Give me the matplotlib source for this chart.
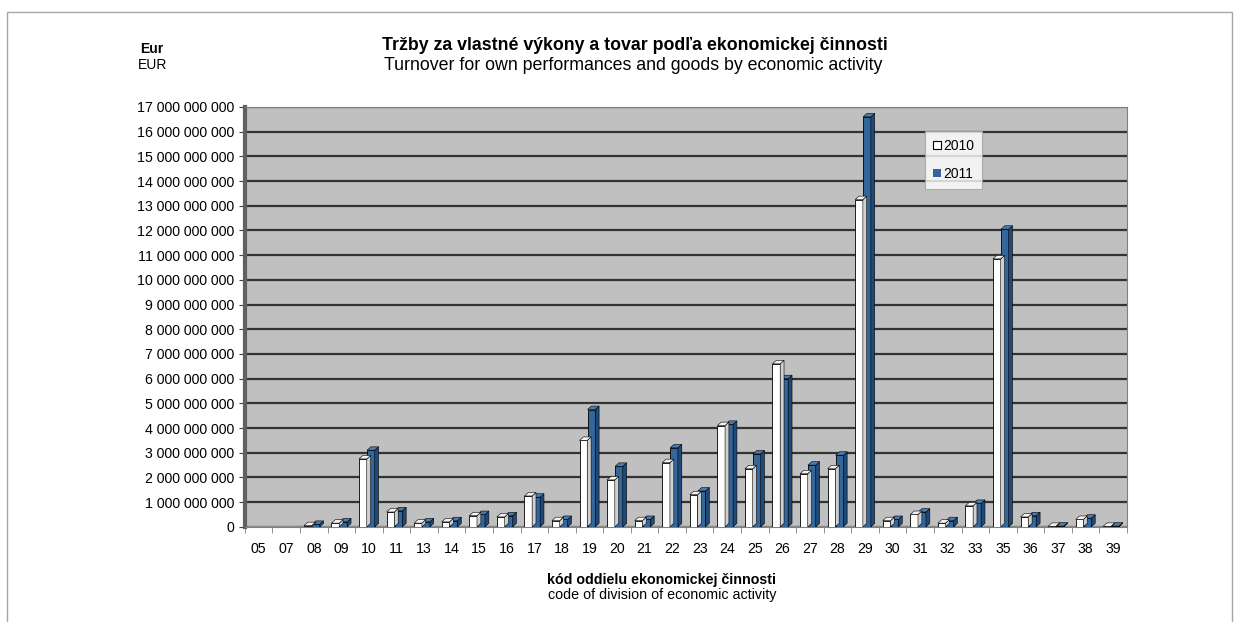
import numpy as np
import matplotlib.pyplot as plt
from matplotlib.patches import Polygon, Rectangle
from matplotlib.ticker import FuncFormatter

plt.rcParams['font.family'] = ['Liberation Sans', 'DejaVu Sans']

codes = ['05', '07', '08', '09', '10', '11', '13', '14', '15', '16', '17', '18',
         '19', '20', '21', '22', '23', '24', '25', '26', '27', '28', '29', '30',
         '31', '32', '33', '35', '36', '37', '38', '39']
# turnover in billions EUR
y2010 = [0.0, 0.0, 0.05, 0.15, 2.75, 0.6, 0.15, 0.2, 0.45, 0.4, 1.25, 0.25,
         3.5, 1.9, 0.25, 2.6, 1.3, 4.1, 2.35, 6.6, 2.15, 2.35, 13.25, 0.25,
         0.5, 0.15, 0.85, 10.85, 0.4, 0.02, 0.3, 0.02]
y2011 = [0.0, 0.0, 0.1, 0.2, 3.1, 0.65, 0.2, 0.25, 0.5, 0.45, 1.2, 0.3,
         4.75, 2.45, 0.3, 3.2, 1.45, 4.15, 2.95, 6.0, 2.5, 2.9, 16.6, 0.3,
         0.6, 0.25, 0.95, 12.05, 0.45, 0.03, 0.35, 0.03]

fig = plt.figure(figsize=(12.37, 6.22), dpi=100)
fig.patches.append(Rectangle((7 / 1237, -0.01), 1225 / 1237, 1 - 12 / 622 + 0.01,
                             transform=fig.transFigure, fill=False,
                             edgecolor='#a6a6a6', lw=1))
ax = fig.add_axes([0.198, 0.153, 0.713, 0.675])
ax.set_facecolor('#c0c0c0')

x = np.arange(len(codes))
w = 0.28
dx = 0.14   # fake depth
dy = 0.14

def bar3d(left, h, face, side, top):
    ax.add_patch(Rectangle((left, 0), w, h, facecolor=face,
                           edgecolor='black', lw=0.6, zorder=3))
    ax.add_patch(Polygon([(left + w, 0), (left + w + dx, dy),
                          (left + w + dx, h + dy), (left + w, h)],
                         closed=True, facecolor=side, edgecolor='black',
                         lw=0.4, zorder=3))
    ax.add_patch(Polygon([(left, h), (left + dx, h + dy),
                          (left + w + dx, h + dy), (left + w, h)],
                         closed=True, facecolor=top, edgecolor='black',
                         lw=0.4, zorder=3))

for i in range(len(codes)):
    if y2011[i] > 0:
        bar3d(x[i] - 0.07, y2011[i], '#336699', '#1f4a78', '#4a7bb0')
    if y2010[i] > 0:
        bar3d(x[i] - 0.36, y2010[i], 'white', '#d0d0d0', '#f2f2f2')

# floor band
ax.add_patch(Rectangle((-0.5, -0.08), len(codes), 0.12, facecolor='#8c8c8c',
                       edgecolor='none', zorder=2))

ax.set_xlim(-0.5, len(codes) - 0.5)
ax.set_ylim(0, 17)
ax.set_yticks(range(0, 18))
ax.yaxis.set_major_formatter(FuncFormatter(
    lambda v, p: '0' if v == 0 else '{:,.0f}'.format(v * 1e9).replace(',', ' ')))
ax.set_xticks(x)
ax.set_xticklabels(codes)
ax.set_xticks(np.arange(-0.5, len(codes), 1), minor=True)
ax.tick_params(axis='x', which='major', length=0, pad=11, labelsize=10.2)
ax.tick_params(axis='x', which='minor', length=4, color='#808080')
ax.tick_params(axis='y', length=4, labelsize=10.2, color='#404040')
ax.grid(axis='y', color='#333333', lw=1.6, zorder=1)
ax.set_axisbelow(True)
for s in ['top', 'right']:
    ax.spines[s].set_color('#808080')
ax.spines['left'].set_color('#606060')
ax.spines['left'].set_linewidth(3)
ax.spines['bottom'].set_color('#808080')

h1 = Rectangle((0, 0), 1, 1, facecolor='white', edgecolor='black', lw=0.8)
h2 = Rectangle((0, 0), 1, 1, facecolor='#336699', edgecolor='none')
leg = ax.legend([h1, h2], ['2010', '2011'], loc='upper left',
                bbox_to_anchor=(0.771, 0.942), fontsize=10, frameon=True,
                fancybox=False, handlelength=0.6, handleheight=0.6,
                handletextpad=0.15, labelspacing=1.0, borderpad=0.55,
                borderaxespad=0)
leg.get_frame().set_edgecolor('#a0a0a0')
leg.get_frame().set_linewidth(0.8)

fig.text(0.513, 0.927, 'Tržby za vlastné výkony a tovar podľa ekonomickej činnosti',
         ha='center', va='center', fontsize=12.8, fontweight='bold')
fig.text(0.512, 0.895, 'Turnover for own performances and goods by economic activity',
         ha='center', va='center', fontsize=12.8)
fig.text(0.123, 0.921, 'Eur', ha='center', va='center', fontsize=10, fontweight='bold')
fig.text(0.123, 0.895, 'EUR', ha='center', va='center', fontsize=10)
fig.text(0.535, 0.068, 'kód oddielu ekonomickej činnosti', ha='center',
         va='center', fontsize=10.3, fontweight='bold')
fig.text(0.535, 0.044, 'code of division of economic activity', ha='center',
         va='center', fontsize=10.3)

fig.savefig('out.png', dpi=100)
